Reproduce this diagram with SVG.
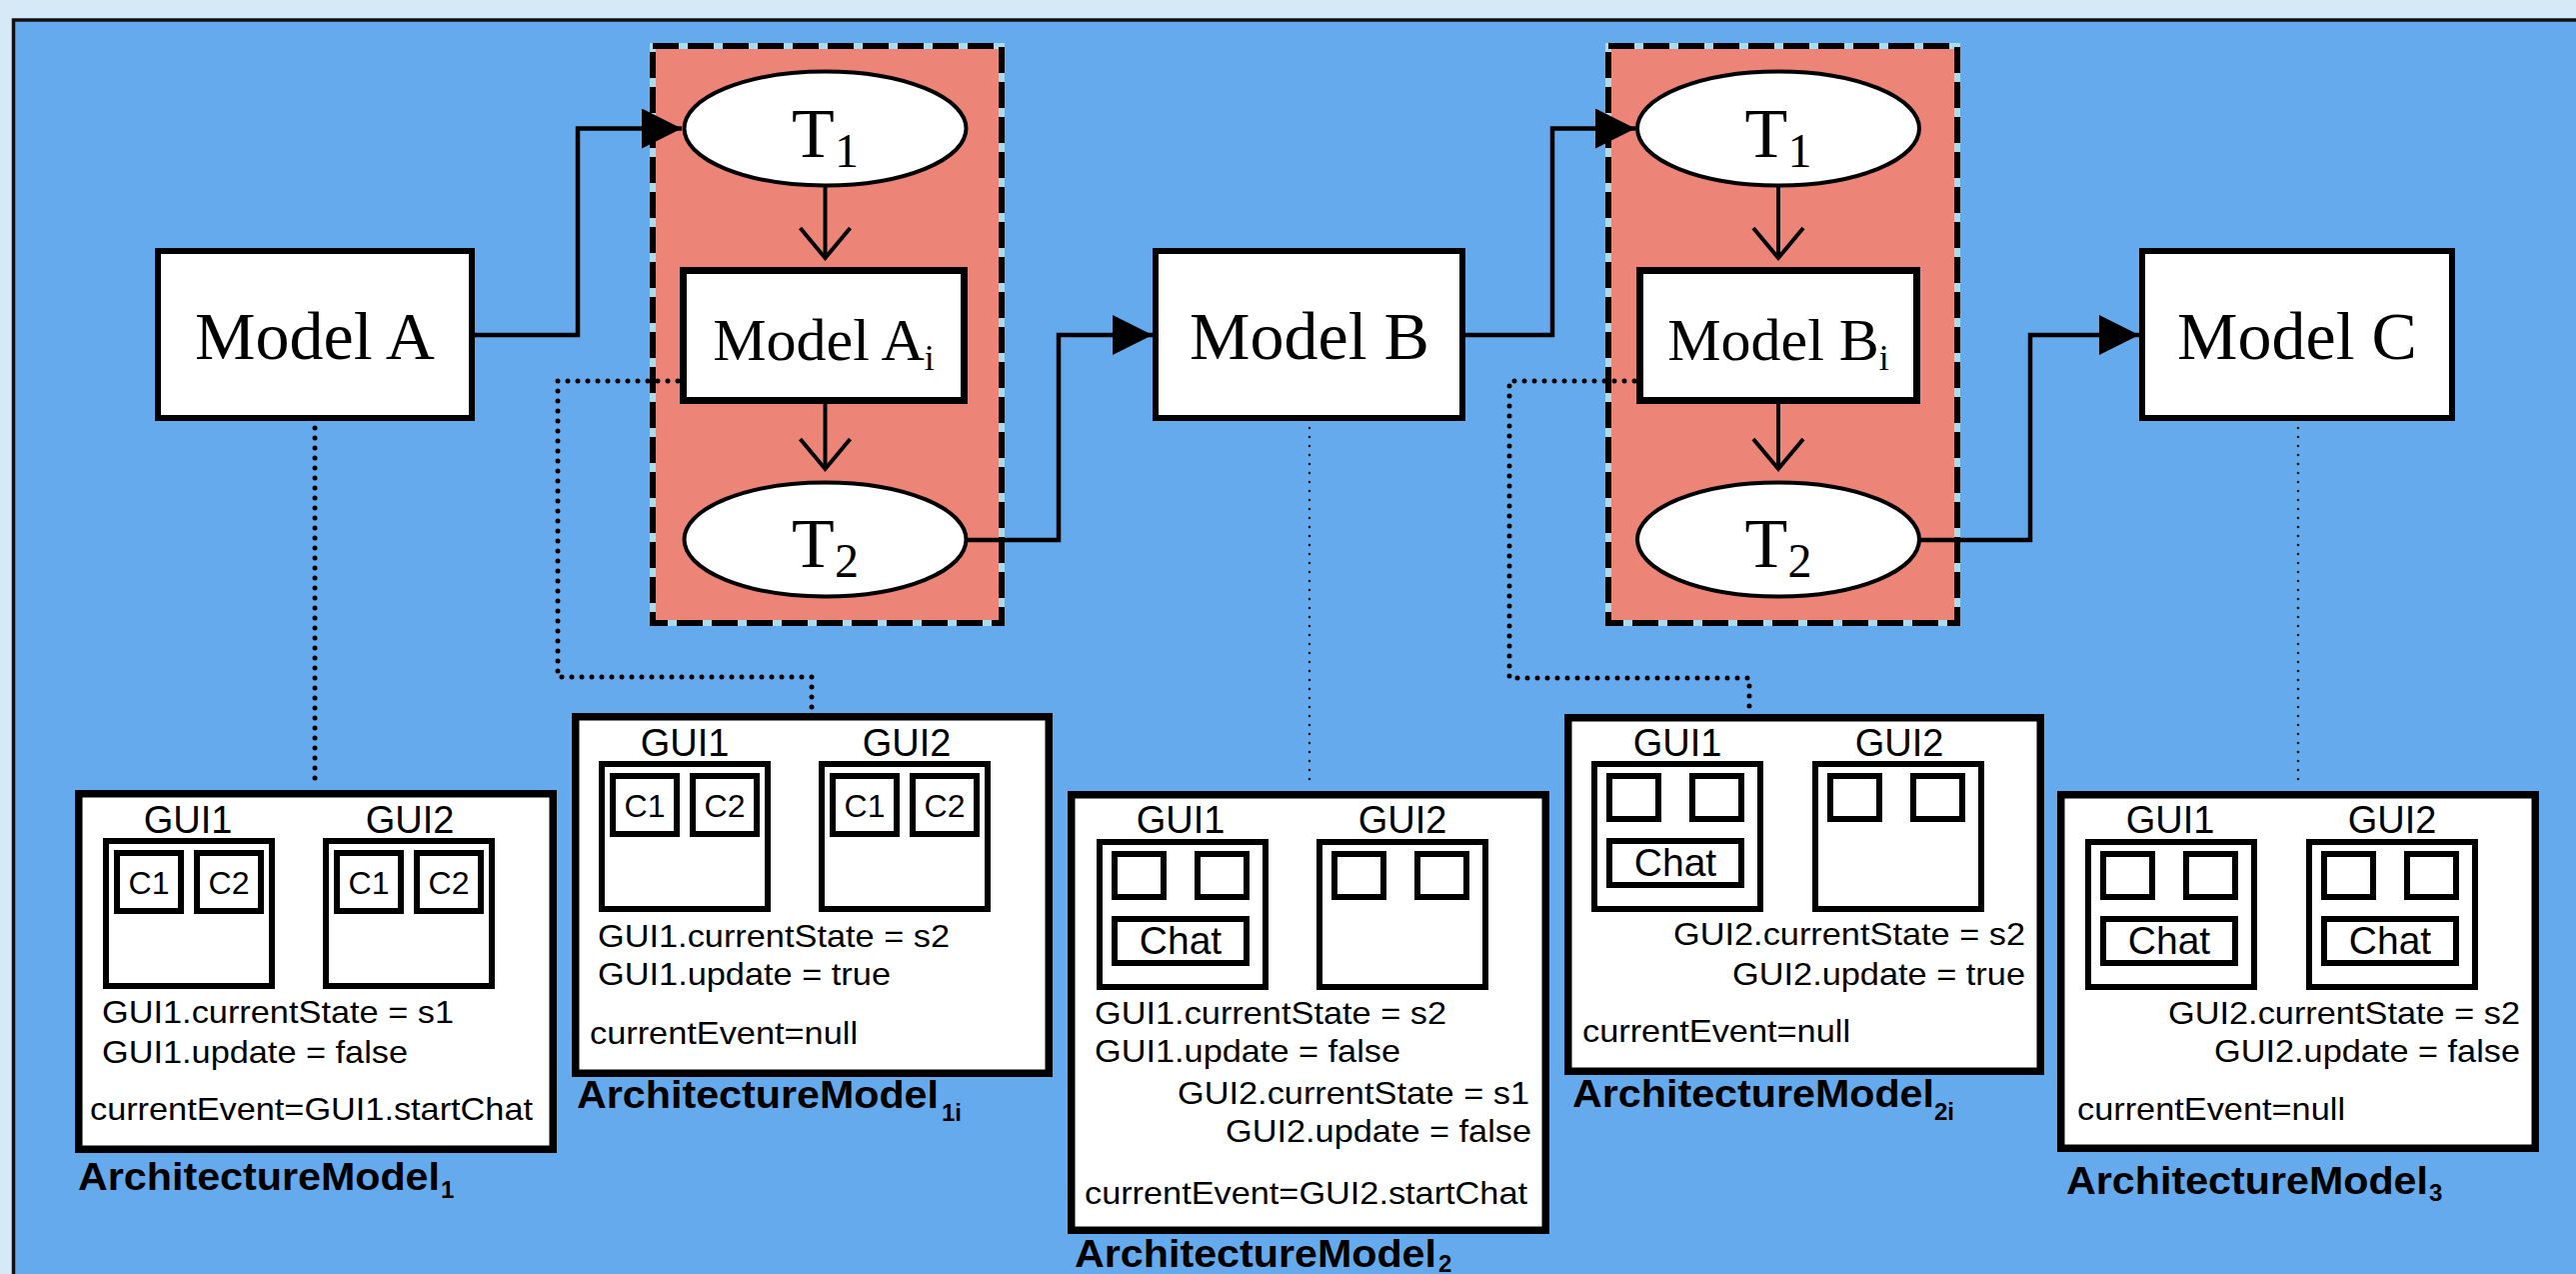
<svg xmlns="http://www.w3.org/2000/svg" xmlns:xlink="http://www.w3.org/1999/xlink" width="2577" height="1274" viewBox="0 0 2577 1274">
  <style>
    .serif { font-family: "Liberation Serif", "Times New Roman", serif; fill: #000; }
    .model { font-size: 68px; }
    .imodel { font-size: 60px; }
    .sub { font-size: 36px; }
    .t { font-size: 70px; }
    .tsub { font-size: 48px; }
    .sans { font-family: "Liberation Sans", Arial, sans-serif; fill: #000; }
    .gui-label { font-size: 38px; }
    .cell { font-size: 32px; }
    .chat { font-size: 39px; }
    .line { font-size: 32px; }
    .title { font-size: 38px; font-weight: bold; }
    .title-sub { font-size: 24px; font-weight: bold; }
    .box { fill: #fff; stroke: #000; stroke-width: 6; }
    .ibox { fill: #fff; stroke: #000; stroke-width: 7; }
    .ell { fill: #fff; stroke: #000; stroke-width: 4; }
    .panel { fill: #fff; stroke: #000; stroke-width: 7.5; }
    .frame { fill: #fff; stroke: #000; stroke-width: 6; }
    .wire { fill: none; stroke: #000; stroke-width: 4.5; }
    .down { fill: none; stroke: #000; stroke-width: 4; }
    .dots { fill: none; stroke: #000; stroke-width: 5; stroke-dasharray: 0 10; stroke-linecap: round; }
    .fine-dots { fill: none; stroke: #111; stroke-width: 2.6; stroke-dasharray: 0 9; stroke-linecap: round; }
    .zone { fill: #ec8577; stroke: #a8dcef; stroke-width: 6; }
    .zone-dash { fill: none; stroke: #000; stroke-width: 6; stroke-dasharray: 26 9; }
  </style>
  <defs>
    <marker id="solid" markerUnits="userSpaceOnUse" markerWidth="40" markerHeight="40" viewBox="0 0 40 40" refX="40" refY="20" orient="auto">
      <path d="M0,0 L40,20 L0,40 z" fill="#000"/>
    </marker>
    <marker id="open" markerUnits="userSpaceOnUse" markerWidth="40" markerHeight="60" viewBox="-5 -5 40 60" refX="30" refY="25" orient="auto" overflow="visible">
      <path d="M0,0 L30,25 L0,50" fill="none" stroke="#000" stroke-width="4"/>
    </marker>
    <!-- GUI window holding two labelled components -->
    <g id="gui-c">
      <rect class="frame" x="3" y="3" width="166" height="145"/>
      <rect class="frame" x="14" y="15" width="64" height="58"/>
      <rect class="frame" x="94" y="15" width="64" height="58"/>
      <text class="sans cell" x="46" y="56" text-anchor="middle">C1</text>
      <text class="sans cell" x="126" y="56" text-anchor="middle">C2</text>
    </g>
    <!-- GUI window with two empty components -->
    <g id="gui-s">
      <rect class="frame" x="3" y="3" width="166" height="145"/>
      <rect class="frame" x="18" y="15" width="49" height="43"/>
      <rect class="frame" x="101" y="15" width="49" height="43"/>
    </g>
    <!-- GUI window with two empty components and a chat pane -->
    <g id="gui-sc">
      <rect class="frame" x="3" y="3" width="166" height="145"/>
      <rect class="frame" x="18" y="15" width="49" height="43"/>
      <rect class="frame" x="101" y="15" width="49" height="43"/>
      <rect class="frame" x="18" y="80" width="132" height="44"/>
      <text class="sans chat" x="84" y="115" text-anchor="middle">Chat</text>
    </g>
  </defs>

  <!-- background -->
  <rect x="0" y="0" width="2577" height="1274" fill="#d6e9f7"/>
  <rect x="12" y="20" width="2570" height="1260" fill="#66aaee"/>
  <path d="M13.5,1274 V20 H2577" fill="none" stroke="#111" stroke-width="3.5"/>

  <!-- transformation zones -->
  <g id="zone-a">
    <rect class="zone" x="653" y="46" width="349" height="577"/>
    <rect class="zone-dash" x="653" y="46" width="349" height="577"/>
  </g>
  <g id="zone-b">
    <rect class="zone" x="1609" y="46" width="349" height="577"/>
    <rect class="zone-dash" x="1609" y="46" width="349" height="577"/>
  </g>

  <!-- connectors -->
  <g id="connectors">
    <path class="wire" d="M475,335 H578 V128.5 H682" marker-end="url(#solid)"/>
    <path class="wire" d="M968,540 H1059 V335 H1153" marker-end="url(#solid)"/>
    <path class="wire" d="M1466,335 H1553 V128.5 H1636" marker-end="url(#solid)"/>
    <path class="wire" d="M1921,540 H2031 V335 H2140" marker-end="url(#solid)"/>
    <path class="down" d="M825.5,186 V258" marker-end="url(#open)"/>
    <path class="down" d="M825.5,404 V469" marker-end="url(#open)"/>
    <path class="down" d="M1779,186 V258" marker-end="url(#open)"/>
    <path class="down" d="M1779,404 V469" marker-end="url(#open)"/>
    <path class="dots" d="M315,428 V787"/>
    <path class="dots" d="M678,381 H558 V677 H812 V710"/>
    <path class="dots" d="M1635,381 H1510 V678 H1750 V711"/>
    <path class="fine-dots" d="M1310,428 V788"/>
    <path class="fine-dots" d="M2299,428 V788"/>
  </g>

  <!-- models -->
  <g id="model-a">
    <rect class="box" x="158" y="251" width="314" height="167"/>
    <text class="serif model" x="315" y="359" text-anchor="middle">Model A</text>
  </g>
  <g id="model-b">
    <rect class="box" x="1156" y="251" width="307" height="167"/>
    <text class="serif model" x="1310" y="359" text-anchor="middle">Model B</text>
  </g>
  <g id="model-c">
    <rect class="box" x="2143" y="251" width="310" height="167"/>
    <text class="serif model" x="2298" y="359" text-anchor="middle">Model C</text>
  </g>
  <g id="model-ai">
    <rect class="ibox" x="683.5" y="270.5" width="281" height="130"/>
    <text class="serif imodel" x="824" y="360" text-anchor="middle">Model A<tspan class="sub" dy="10">i</tspan></text>
  </g>
  <g id="model-bi">
    <rect class="ibox" x="1640.5" y="270.5" width="277" height="130"/>
    <text class="serif imodel" x="1779" y="360" text-anchor="middle">Model B<tspan class="sub" dy="10">i</tspan></text>
  </g>

  <!-- transformations -->
  <g id="t1-a">
    <ellipse class="ell" cx="825.5" cy="128.5" rx="141" ry="57"/>
    <text class="serif t" x="825.5" y="157" text-anchor="middle">T<tspan class="tsub" dy="10">1</tspan></text>
  </g>
  <g id="t2-a">
    <ellipse class="ell" cx="825.5" cy="539.5" rx="141" ry="57"/>
    <text class="serif t" x="825.5" y="567" text-anchor="middle">T<tspan class="tsub" dy="10">2</tspan></text>
  </g>
  <g id="t1-b">
    <ellipse class="ell" cx="1779" cy="128.5" rx="141" ry="57"/>
    <text class="serif t" x="1779" y="157" text-anchor="middle">T<tspan class="tsub" dy="10">1</tspan></text>
  </g>
  <g id="t2-b">
    <ellipse class="ell" cx="1779" cy="539.5" rx="141" ry="57"/>
    <text class="serif t" x="1779" y="567" text-anchor="middle">T<tspan class="tsub" dy="10">2</tspan></text>
  </g>

  <!-- architecture models -->
  <g id="arch-1" transform="translate(75,790)">
    <rect class="panel" x="3.75" y="3.75" width="474.5" height="355.5"/>
    <text class="sans gui-label" x="113" y="43" text-anchor="middle">GUI1</text>
    <text class="sans gui-label" x="335" y="43" text-anchor="middle">GUI2</text>
    <use href="#gui-c" x="28" y="48"/>
    <use href="#gui-c" x="248" y="48"/>
    <text class="sans line" x="27" y="233" textLength="352" lengthAdjust="spacingAndGlyphs">GUI1.currentState = s1</text>
    <text class="sans line" x="27" y="273" textLength="306" lengthAdjust="spacingAndGlyphs">GUI1.update = false</text>
    <text class="sans line" x="15" y="330" textLength="443" lengthAdjust="spacingAndGlyphs">currentEvent=GUI1.startChat</text>
    <text class="sans title" x="3" y="400" textLength="362" lengthAdjust="spacingAndGlyphs">ArchitectureModel</text>
    <text class="sans title-sub" x="366" y="408">1</text>
  </g>

  <g id="arch-1i" transform="translate(572,713)">
    <rect class="panel" x="3.75" y="3.75" width="473.5" height="356.5"/>
    <text class="sans gui-label" x="113" y="43" text-anchor="middle">GUI1</text>
    <text class="sans gui-label" x="335" y="43" text-anchor="middle">GUI2</text>
    <use href="#gui-c" x="27" y="48"/>
    <use href="#gui-c" x="247" y="48"/>
    <text class="sans line" x="26" y="234" textLength="352" lengthAdjust="spacingAndGlyphs">GUI1.currentState = s2</text>
    <text class="sans line" x="26" y="272" textLength="293" lengthAdjust="spacingAndGlyphs">GUI1.update = true</text>
    <text class="sans line" x="18" y="331" textLength="268" lengthAdjust="spacingAndGlyphs">currentEvent=null</text>
    <text class="sans title" x="5" y="395" textLength="362" lengthAdjust="spacingAndGlyphs">ArchitectureModel</text>
    <text class="sans title-sub" x="370" y="408">1i</text>
  </g>

  <g id="arch-2" transform="translate(1068,791)">
    <rect class="panel" x="3.75" y="3.75" width="474.5" height="435.5"/>
    <text class="sans gui-label" x="113" y="42" text-anchor="middle">GUI1</text>
    <text class="sans gui-label" x="335" y="42" text-anchor="middle">GUI2</text>
    <use href="#gui-sc" x="29" y="48"/>
    <use href="#gui-s" x="249" y="48"/>
    <text class="sans line" x="27" y="233" textLength="352" lengthAdjust="spacingAndGlyphs">GUI1.currentState = s2</text>
    <text class="sans line" x="27" y="271" textLength="306" lengthAdjust="spacingAndGlyphs">GUI1.update = false</text>
    <text class="sans line" x="110" y="313" textLength="352" lengthAdjust="spacingAndGlyphs">GUI2.currentState = s1</text>
    <text class="sans line" x="158" y="351" textLength="306" lengthAdjust="spacingAndGlyphs">GUI2.update = false</text>
    <text class="sans line" x="17" y="413" textLength="443" lengthAdjust="spacingAndGlyphs">currentEvent=GUI2.startChat</text>
    <text class="sans title" x="7" y="476" textLength="362" lengthAdjust="spacingAndGlyphs">ArchitectureModel</text>
    <text class="sans title-sub" x="371" y="481">2</text>
  </g>

  <g id="arch-2i" transform="translate(1565,714)">
    <rect class="panel" x="3.75" y="3.75" width="472.5" height="353.5"/>
    <text class="sans gui-label" x="113" y="42" text-anchor="middle">GUI1</text>
    <text class="sans gui-label" x="335" y="42" text-anchor="middle">GUI2</text>
    <use href="#gui-sc" x="27" y="47"/>
    <use href="#gui-s" x="248" y="47"/>
    <text class="sans line" x="109" y="231" textLength="352" lengthAdjust="spacingAndGlyphs">GUI2.currentState = s2</text>
    <text class="sans line" x="168" y="271" textLength="293" lengthAdjust="spacingAndGlyphs">GUI2.update = true</text>
    <text class="sans line" x="18" y="328" textLength="268" lengthAdjust="spacingAndGlyphs">currentEvent=null</text>
    <text class="sans title" x="8" y="393" textLength="362" lengthAdjust="spacingAndGlyphs">ArchitectureModel</text>
    <text class="sans title-sub" x="370" y="406">2i</text>
  </g>

  <g id="arch-3" transform="translate(2058,791)">
    <rect class="panel" x="3.75" y="3.75" width="474.5" height="353.5"/>
    <text class="sans gui-label" x="113" y="42" text-anchor="middle">GUI1</text>
    <text class="sans gui-label" x="335" y="42" text-anchor="middle">GUI2</text>
    <use href="#gui-sc" x="28" y="48"/>
    <use href="#gui-sc" x="249" y="48"/>
    <text class="sans line" x="111" y="233" textLength="352" lengthAdjust="spacingAndGlyphs">GUI2.currentState = s2</text>
    <text class="sans line" x="157" y="271" textLength="306" lengthAdjust="spacingAndGlyphs">GUI2.update = false</text>
    <text class="sans line" x="20" y="329" textLength="268" lengthAdjust="spacingAndGlyphs">currentEvent=null</text>
    <text class="sans title" x="9" y="403" textLength="362" lengthAdjust="spacingAndGlyphs">ArchitectureModel</text>
    <text class="sans title-sub" x="372" y="410">3</text>
  </g>
</svg>
